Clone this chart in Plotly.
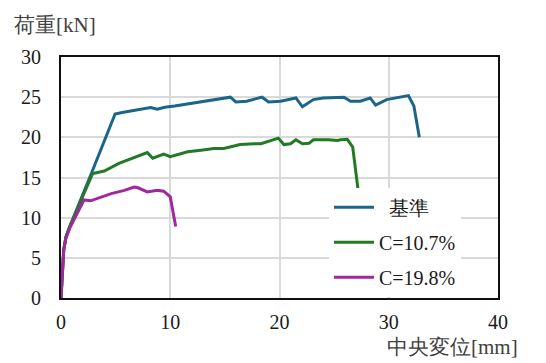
import plotly.graph_objects as go

# 基準
base_x = [0, 0.1, 0.25, 0.45, 0.8, 2.75, 4.7, 4.95, 5.6, 7.0, 8.2, 8.8, 9.5, 10.4, 12.2, 14.1, 15.5,
          16.0, 17.0, 18.4, 19.0, 20.1, 21.5, 22.1, 23.1, 24.0, 25.9, 26.5, 27.4, 28.3, 28.8,
          29.8, 31.0, 31.8, 32.3, 32.8]
base_y = [0, 3.0, 6.0, 7.6, 8.9, 15.4, 22.2, 22.9, 23.1, 23.4, 23.7, 23.5, 23.75, 23.9, 24.3, 24.7, 25.0,
          24.4, 24.5, 25.0, 24.4, 24.5, 24.9, 23.8, 24.7, 24.9, 25.0, 24.5, 24.5, 24.9, 24.0,
          24.7, 25.0, 25.2, 23.9, 20.0]

# C=10.7%
c1_x = [0, 0.1, 0.25, 0.45, 0.8, 2.9, 3.96, 5.3, 6.7, 7.9, 8.4, 9.4, 10.0, 11.6, 12.8, 14.0, 14.9,
        16.4, 17.7, 18.3, 19.9, 20.4, 21.0, 21.5, 22.1, 22.7, 23.1, 24.5, 25.3, 25.6, 26.2,
        26.7, 27.2]
c1_y = [0, 3.0, 6.0, 7.6, 8.9, 15.5, 15.8, 16.75, 17.5, 18.1, 17.4, 17.9, 17.6, 18.2, 18.4, 18.6, 18.6,
        19.1, 19.2, 19.2, 19.9, 19.1, 19.2, 19.7, 19.2, 19.25, 19.7, 19.7, 19.6, 19.7, 19.75,
        18.8, 13.4]

# C=19.8%
c2_x = [0, 0.1, 0.25, 0.45, 0.8, 2.1, 2.7, 4.6, 5.8, 6.7, 7.0, 7.9, 8.8, 9.4, 10.0, 10.5]
c2_y = [0, 3.0, 6.0, 7.4, 8.7, 12.2, 12.1, 13.0, 13.4, 13.8, 13.75, 13.2, 13.4, 13.3, 12.6, 8.9]

names = ["\u2002基準", "C=10.7%", "C=19.8%"]
colors = ["#1b6589", "#237a24", "#a0289c"]

x_ticks = [0, 10, 20, 30, 40]
y_ticks = [0, 5, 10, 15, 20, 25, 30]

serif = "Times New Roman, Liberation Serif, DejaVu Serif, serif"

# page offset (body margin) of 8px is compensated
OFF = 8
W, H = 546, 363
L = 61 - OFF
T = 57 - OFF
R = W - (498 - OFF)
B = H - (298 - OFF)
pw = W - L - R
ph = H - T - B

fig = go.Figure()
for i, (xs, ys) in enumerate([(base_x, base_y), (c1_x, c1_y), (c2_x, c2_y)]):
    fig.add_trace(go.Scatter(x=xs, y=ys, mode="lines", name=names[i],
                             legendgroup=str(i),
                             line=dict(color=colors[i], width=3)))

fig.update_layout(
    width=W, height=H,
    margin=dict(l=L, r=R, t=T, b=B, autoexpand=False),
    paper_bgcolor="white", plot_bgcolor="white",
    font=dict(family=serif, size=20, color="#1a1a1a"),
    legend=dict(x=(329 - OFF - L) / pw, y=0.005, xanchor="left", yanchor="bottom",
                bgcolor="white", borderwidth=0,
                font=dict(family=serif, size=20, color="#1a1a1a"),
                tracegroupgap=6, itemwidth=40),
    xaxis=dict(range=[0, 40], tickvals=x_ticks, showgrid=True, gridcolor="#d9d9d9", gridwidth=1.5,
               showline=True, linecolor="#111111", linewidth=2, mirror=True, automargin=False,
               zeroline=False, ticks="", ticklabelstandoff=5),
    yaxis=dict(range=[0, 30], tickvals=y_ticks, showgrid=True, gridcolor="#d9d9d9", gridwidth=1.5,
               showline=True, linecolor="#111111", linewidth=2, mirror=True, automargin=False,
               zeroline=False, ticks="", ticklabelstandoff=14),
    annotations=[
        dict(text="荷重[kN]", x=(12 - OFF - L) / pw, y=1 + (T - (25 - OFF)) / ph, xref="paper", yref="paper",
             showarrow=False, xanchor="left", yanchor="middle",
             font=dict(size=21, color="#404040", family=serif)),
        dict(text="中央変位[mm]", x=(520 - OFF - L) / pw, y=-((347 - OFF) - (H - B)) / ph,
             xref="paper", yref="paper",
             showarrow=False, xanchor="right", yanchor="middle",
             font=dict(size=21, color="#404040", family=serif)),
    ],
)

fig.write_html("out.html")
